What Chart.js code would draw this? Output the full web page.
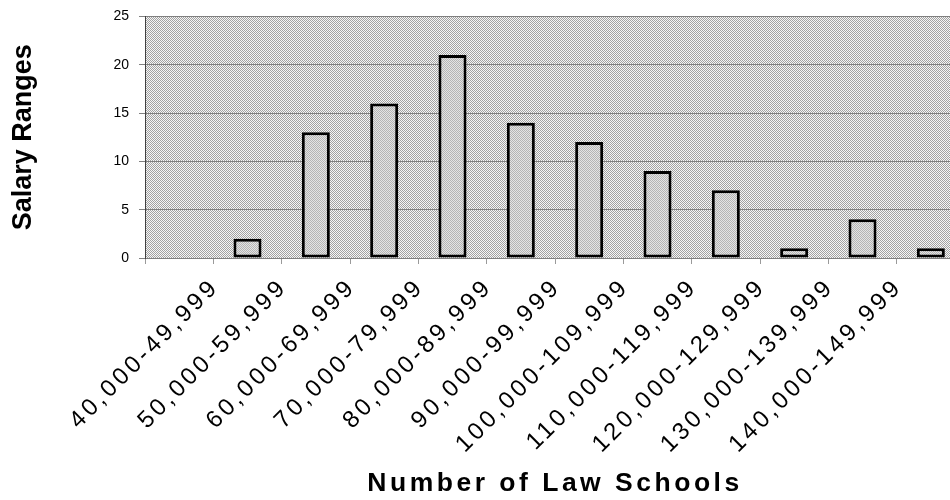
<!DOCTYPE html>
<html>
<head>
<meta charset="utf-8">
<script src="https://cdn.jsdelivr.net/npm/chart.js@4"></script>
<style>
  body { margin: 0; background: #fff; overflow: hidden; }
  #wrap { width: 950px; height: 500px; overflow: hidden; }
  #chart { display: block; margin-top: -2px; }
</style>
</head>
<body>
<div id="wrap"><canvas id="chart" width="970" height="502"></canvas></div>
<script>
// categorias (la primera sin etiqueta)
const salaryRanges = ["", "40,000-49,999", "50,000-59,999", "60,000-69,999", "70,000-79,999",
  "80,000-89,999", "90,000-99,999", "100,000-109,999", "110,000-119,999",
  "120,000-129,999", "130,000-139,999", "140,000-149,999"];
// numero de facultades por rango
const schoolCounts = [0, 2, 13, 16, 21, 14, 12, 9, 7, 1, 4, 1];
const yTicks = [0, 5, 10, 15, 20, 25];

const FONT = '"Liberation Sans", Arial, sans-serif';
const canvas = document.getElementById("chart");
const ctx = canvas.getContext("2d");

// trama de cuadritos tipo Excel
function checker(dark, light) {
  const p = document.createElement("canvas");
  p.width = 2;
  p.height = 2;
  const g = p.getContext("2d");
  g.fillStyle = light;
  g.fillRect(0, 0, 2, 2);
  g.fillStyle = dark;
  g.fillRect(0, 0, 1, 1);
  g.fillRect(1, 1, 1, 1);
  return ctx.createPattern(p, "repeat");
}
const plotFill = checker("#a2a2a2", "#f6f6f6");
const barFill = checker("#b4b4b4", "#e4e4e4");

// fondo del area y espaciado de letras para el eje x
const excelLook = {
  id: "excelLook",
  beforeDraw(chart) {
    const c = chart.ctx;
    c.letterSpacing = "0px";
    const a = chart.chartArea;
    c.save();
    c.fillStyle = plotFill;
    c.fillRect(a.left, a.top, a.right - a.left, a.bottom - a.top);
    c.restore();
  },
  afterDatasetsDraw(chart) {
    chart.ctx.letterSpacing = "3.5px";
  },
  afterDraw(chart) {
    chart.ctx.letterSpacing = "0px";
  },
};

new Chart(ctx, {
  type: "bar",
  data: {
    labels: salaryRanges,
    datasets: [
      {
        data: schoolCounts,
        backgroundColor: barFill,
        borderColor: "#000",
        borderWidth: 3,
        borderSkipped: false,
        barPercentage: 0.41,
        categoryPercentage: 1,
      },
    ],
  },
  options: {
    responsive: false,
    animation: false,
    layout: { padding: { top: 5, right: 5, left: 0, bottom: 0 } },
    plugins: { legend: { display: false }, tooltip: { enabled: false } },
    scales: {
      x: {
        afterFit(s) { s.height = 242; },
        grid: { z: 1, drawOnChartArea: false, tickLength: 6, color: "#9a9a9a", offset: true },
        border: { color: "#404040" },
        ticks: {
          z: 1,
          autoSkip: false,
          minRotation: 45,
          maxRotation: 45,
          labelOffset: -32,
          padding: 9,
          color: "#000",
          font: { family: FONT, size: 24 },
        },
        title: {
          display: true,
          text: "Number of Law Schools",
          color: "#000",
          padding: { top: 0, bottom: 0 },
          font: { family: FONT, size: 26.5, weight: "bold" },
        },
      },
      y: {
        min: 0,
        max: 25,
        afterFit(s) { s.width = 145; },
        afterBuildTicks(s) { s.ticks = yTicks.map((v) => ({ value: v })); },
        grid: { color: "#808080", tickLength: 6 },
        border: { color: "#404040" },
        ticks: {
          padding: 10,
          color: "#000",
          font: { family: FONT, size: 14 },
        },
        title: {
          display: true,
          text: "Salary Ranges",
          color: "#000",
          padding: { top: 7, bottom: 0 },
          font: { family: FONT, size: 27, weight: "bold" },
        },
      },
    },
  },
  plugins: [excelLook],
});
</script>
</body>
</html>
